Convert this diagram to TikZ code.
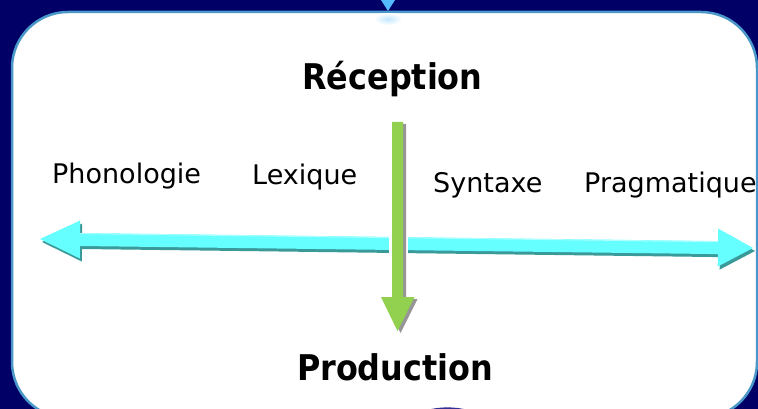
\documentclass[tikz,border=0pt]{standalone}
\usepackage{fontspec}
\setmainfont{DejaVu Sans}
\newfontface\boldc{DejaVu Sans Condensed Bold}
\definecolor{navybg}{RGB}{0,0,102}
\definecolor{boxline}{RGB}{74,151,201}
\definecolor{cyanfill}{RGB}{102,255,255}
\definecolor{cyanshadow}{RGB}{58,153,153}
\definecolor{greenfill}{RGB}{146,208,80}
\definecolor{greyshadow}{RGB}{150,150,150}
\definecolor{tri}{RGB}{85,187,255}
\definecolor{bottomblue}{RGB}{48,48,150}
\tikzset{
  lbl/.style={anchor=base west, inner sep=0pt, font=\fontsize{27}{32}\selectfont},
  title/.style={anchor=base, inner sep=0pt, font=\boldc\fontsize{35.4}{40}\selectfont},
}
\begin{document}
\begin{tikzpicture}[x=1pt,y=-1pt]
\useasboundingbox (0,0) rectangle (758,409);
\clip (0,0) rectangle (758,409);
\fill[navybg] (0,0) rectangle (758,409);
% top triangle
\fill[tri] (381,0) -- (395,0) -- (388,11) -- cycle;
% white box
\fill[white, draw=boxline, line width=2.5pt, rounded corners=56pt] (12,12) rectangle (757,418);
\shade[inner color=tri!35, outer color=white] (388,19) ellipse (14 and 6);
\fill[bottomblue] (427,410) .. controls (440,406.5) and (455,406.5) .. (468,410) -- cycle;
% cyan double arrow: shadow then body
\fill[cyanshadow, shift={(2,3)}] (40,239) -- (80.2,220.5) -- (80.1,233.0) -- (718.0,241.1) -- (718.2,228.6) -- (753,248) -- (717.7,266.6) -- (717.9,254.1) -- (79.9,246.0) -- (79.8,258.5) -- cycle;
\fill[cyanfill] (40,239) -- (80.2,220.5) -- (80.1,233.0) -- (718.0,241.1) -- (718.2,228.6) -- (753,248) -- (717.7,266.6) -- (717.9,254.1) -- (79.9,246.0) -- (79.8,258.5) -- cycle;
\draw[cyanfill!55!white, line width=1pt] (80.1,233.6) -- (718.0,241.7);
% gap around the green arrow
\fill[white] (389,225) rectangle (408,262);
% green arrow: shadow then body
\fill[greyshadow, shift={(3,2)}] (392,122) -- (403,122) -- (403,297) -- (414.5,297) -- (397.5,331) -- (381,297) -- (392,297) -- cycle;
\fill[greenfill] (392,122) -- (403,122) -- (403,297) -- (414.5,297) -- (397.5,331) -- (381,297) -- (392,297) -- cycle;
% texts
\node[title] (rec) at (392.5,90) {Réception};
\node[title] (prod) at (395,380) {Production};
\node[lbl] (phon) at (52,183) {Phonologie};
\node[lbl] (lex) at (252,185) {Lexique};
\node[lbl] (syn) at (433,193) {Syntaxe};
\node[lbl] (prag) at (584,193) {Pragmatique};
\end{tikzpicture}
\end{document}
